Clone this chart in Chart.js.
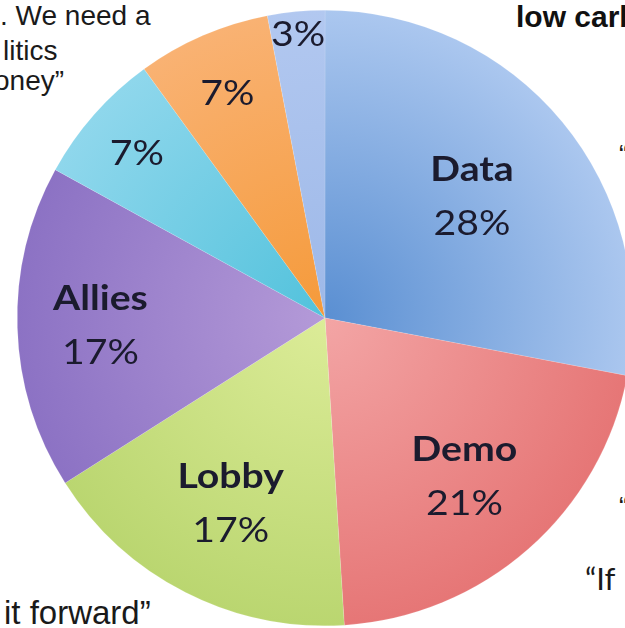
<!DOCTYPE html>
<html>
<head>
<meta charset="utf-8">
<script src="https://cdn.jsdelivr.net/npm/chart.js@4/dist/chart.umd.min.js"></script>
<style>
  html, body { margin:0; padding:0; background:#fff; width:625px; height:628px; overflow:hidden; }
  #wrap { position:absolute; left:0; top:0; width:660px; height:628px; }
  .bg { position:absolute; white-space:nowrap; font-family:"Liberation Sans", Arial, sans-serif; color:#1a1a1a; line-height:1; }
</style>
</head>
<body>
<div class="bg" style="left:0px; top:2px; font-size:28px;">. We need a</div>
<div class="bg" style="left:3px; top:37px; font-size:28px;">litics</div>
<div class="bg" style="left:-6px; top:67px; font-size:28px;">oney”</div>
<div class="bg" style="left:516px; top:2px; font-size:30px; font-weight:bold; color:#111;">low carb</div>
<div class="bg" style="left:619px; top:142px; font-size:27px;">“</div>
<div class="bg" style="left:619px; top:494px; font-size:27px;">“</div>
<div class="bg" style="left:585px; top:563px; font-size:31px; font-family:Lato, sans-serif;">“If </div>
<div class="bg" style="left:4px; top:596px; font-size:33px;">it forward”</div>
<div id="wrap"><canvas id="c" width="660" height="628"></canvas></div>
<script>
// ---- data ----
const categories = ['Data', 'Demo', 'Lobby', 'Allies', '', '', ''];
const shares = [28, 21, 17, 17, 7, 7, 3];
const percentLabels = ['28%', '21%', '17%', '17%', '7%', '7%', '3%'];

// ---- styles ----
const innerColors = ['#5a8fd2', '#f3a5a5', '#dcec98', '#b49ad8', '#52c2dc', '#f59a3a', '#9db8e8'];
const outerColors = ['#abc7ef', '#e67676', '#bad670', '#8c72c4', '#8fd7ec', '#f9b273', '#b2c8f0'];
const labelRadius = [0.62, 0.685, 0.675, 0.73, 0.815, 0.80, 0.93];

function sliceFill(ctx) {
  const chart = ctx.chart;
  const a = chart.chartArea;
  if (!a) return innerColors[ctx.dataIndex];
  const cx = (a.left + a.right) / 2, cy = (a.top + a.bottom) / 2;
  const r = Math.min(a.right - a.left, a.bottom - a.top) / 2;
  const g = chart.ctx.createRadialGradient(cx, cy, 0, cx, cy, r);
  g.addColorStop(0, innerColors[ctx.dataIndex]);
  g.addColorStop(1, outerColors[ctx.dataIndex]);
  return g;
}

const labelPlugin = {
  id: 'sliceLabels',
  afterDatasetsDraw(chart) {
    const ctx = chart.ctx;
    const meta = chart.getDatasetMeta(0);
    meta.data.forEach((arc, i) => {
      const p = arc.getProps(['x', 'y', 'startAngle', 'endAngle', 'outerRadius'], true);
      const mid = (p.startAngle + p.endAngle) / 2;
      const r = p.outerRadius * labelRadius[i];
      const px = p.x + Math.cos(mid) * r;
      const py = p.y + Math.sin(mid) * r;
      ctx.save();
      ctx.translate(px, py);
      ctx.scale(1.12, 1);
      ctx.fillStyle = '#1b1b2e';
      ctx.textAlign = 'center';
      ctx.textBaseline = 'alphabetic';
      if (categories[i]) {
        ctx.font = 'bold 35px Lato, sans-serif';
        ctx.fillText(categories[i], 0, -15);
        ctx.font = '35px Lato, sans-serif';
        ctx.fillText(percentLabels[i], 0, 39);
      } else {
        ctx.font = '35px Lato, sans-serif';
        ctx.fillText(percentLabels[i], 0, 13);
      }
      ctx.restore();
    });
  }
};

new Chart(document.getElementById('c'), {
  type: 'pie',
  data: {
    labels: categories,
    datasets: [{
      data: shares,
      backgroundColor: sliceFill,
      borderColor: 'rgba(255,255,255,0.25)',
      borderWidth: 0.5
    }]
  },
  options: {
    responsive: false,
    animation: false,
    layout: { padding: { left: 17, right: 27, top: 10, bottom: 2 } },
    plugins: { legend: { display: false }, tooltip: { enabled: false } }
  },
  plugins: [labelPlugin]
});
</script>
</body>
</html>
